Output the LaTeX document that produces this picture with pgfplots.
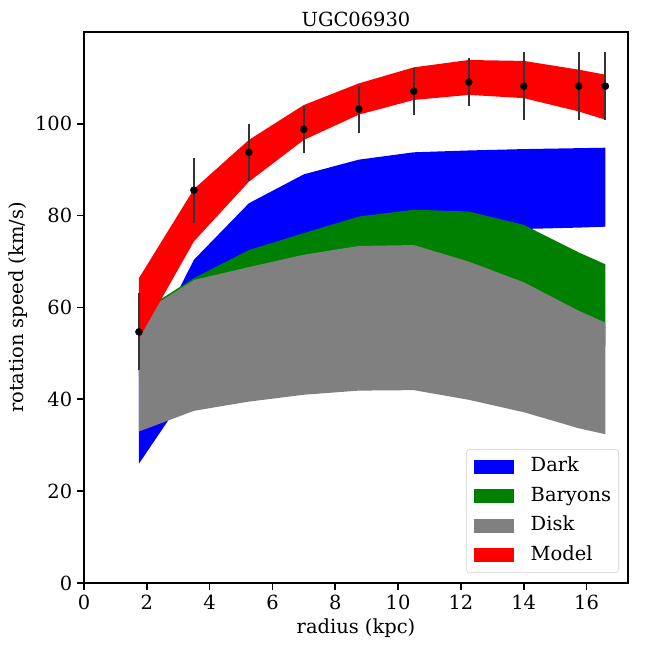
\documentclass[border=0pt]{standalone}
\usepackage{fontspec}
\setmainfont{DejaVu Serif}
\usepackage{pgfplots}
\pgfplotsset{compat=1.18}
\definecolor{mplgreen}{RGB}{0,128,0}
\definecolor{mplgray}{RGB}{128,128,128}
\begin{document}
\begin{tikzpicture}
\useasboundingbox (0,0) rectangle (466.56pt,466.56pt);
\begin{axis}[
  at={(60.48pt,46.8pt)}, anchor=south west,
  width=391.68pt, height=396.72pt, scale only axis,
  xmin=0, xmax=17.32, ymin=0, ymax=120,
  xtick={0,2,...,16}, ytick={0,20,...,100},
  tick pos=left, tick align=outside, major tick length=5pt,
  every tick/.style={black, line width=1.2pt},
  axis line style={line width=1.25pt},
  /pgf/number format/assume math mode=true,
  tick label style={font=\fontsize{14}{16}\selectfont},
  title={UGC06930},
  xlabel={radius (kpc)},
  ylabel={rotation speed (km/s)},
  every axis title/.style={at={(0.5,1)}, yshift=3.8pt, anchor=base, font=\fontsize{14}{16}\selectfont},
  every axis x label/.style={at={(0.5,0)}, yshift=-36.2pt, anchor=base, font=\fontsize{14}{16}\selectfont},
  every axis y label/.style={at={(0,0.5)}, xshift=-43.9pt, rotate=90, anchor=base, font=\fontsize{14}{16}\selectfont},
  legend image code/.code={\path[#1, fill opacity=1, sharp corners] (0pt,-5pt) rectangle (28.8pt,5pt);},
  legend cell align=left,
  legend style={at={(1,0)}, anchor=south east, xshift=-6.48pt, yshift=7.2pt,
    draw=black!18, rounded corners=2.5pt, fill=white, fill opacity=0.8, text opacity=1,
    font=\fontsize{14}{16}\selectfont, row sep=8pt, column sep=12pt,
    inner xsep=5.5pt, inner ysep=6pt,
    nodes={inner sep=0pt, text height=10.2pt, text depth=3pt}},
]
% Dark
\addplot[fill=blue, draw=none] coordinates {
 (1.75,46.7) (3.5,70.4) (5.25,82.7) (7,89.0) (8.75,92.2) (10.5,93.8) (12.25,94.2) (14,94.5) (15.75,94.7) (16.6,94.8)
 (16.6,77.6) (15.75,77.4) (14,77.1) (12.25,75) (10.5,72) (8.75,68) (7,63) (5.25,55) (3.5,43.7) (1.75,26.0)
} -- cycle;
\addlegendentry{Dark}
% Baryons
\addplot[fill=mplgreen, draw=none] coordinates {
 (1.75,58.8) (3.5,66.4) (5.25,72.5) (7,76.2) (8.75,79.8) (10.5,81.3) (12.25,80.9) (14,78.0) (15.75,72.0) (16.6,69.4)
 (16.6,51.5) (15.75,53) (14,56.5) (12.25,57) (10.5,56) (8.75,53.5) (7,51.5) (5.25,50) (3.5,48) (1.75,45)
} -- cycle;
\addlegendentry{Baryons}
% Disk
\addplot[fill=mplgray, draw=none] coordinates {
 (1.75,58.4) (3.5,66.0) (5.25,68.8) (7,71.5) (8.75,73.4) (10.5,73.6) (12.25,70.0) (14,65.5) (15.75,59.3) (16.6,56.7)
 (16.6,32.4) (15.75,33.7) (14,37.2) (12.25,39.9) (10.5,42.0) (8.75,41.9) (7,41.0) (5.25,39.5) (3.5,37.5) (1.75,33.0)
} -- cycle;
\addlegendentry{Disk}
% Model
\addplot[fill=red, draw=none] coordinates {
 (1.75,66.4) (3.5,85.8) (5.25,96.5) (7,104.1) (8.75,108.8) (10.5,112.3) (12.25,113.9) (14,113.7) (15.75,111.8) (16.6,110.7)
 (16.6,100.9) (15.75,102.7) (14,105.6) (12.25,106.3) (10.5,105.2) (8.75,102.0) (7,96.5) (5.25,87.4) (3.5,74.4) (1.75,53.2)
} -- cycle;
\addlegendentry{Model}
% data
\addplot[only marks, mark=*, mark size=2.5pt, black, forget plot,
  error bars/.cd, y dir=both, y explicit, error mark=none,
  error bar style={line width=1.5pt, black!80}]
 coordinates {
 (1.75,54.7) +- (0,8.4)
 (3.5,85.55) +- (0,7.05)
 (5.25,93.8) +- (0,6.2)
 (7,98.8) +- (0,5.1)
 (8.75,103.2) +- (0,5.1)
 (10.5,107.1) +- (0,5.1)
 (12.25,109.1) +- (0,5.15)
 (14,108.2) +- (0,7.35)
 (15.75,108.2) +- (0,7.35)
 (16.6,108.2) +- (0,7.35)
};
\end{axis}
\end{tikzpicture}
\end{document}
